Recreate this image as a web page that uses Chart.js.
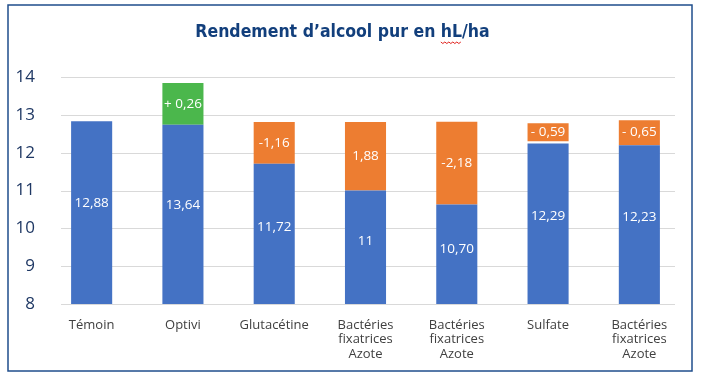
<!DOCTYPE html>
<html><head><meta charset="utf-8">
<script src="https://cdn.jsdelivr.net/npm/chart.js@4/dist/chart.umd.min.js"></script>
<style>html,body{margin:0;padding:0;background:#fff}#wrap{width:701px;height:377px}</style>
</head><body><div id="wrap"><canvas id="c" width="701" height="377"></canvas></div>
<script>
const categories = [["Témoin"],["Optivi"],["Glutacétine"],["Bactéries","fixatrices","Azote"],["Bactéries","fixatrices","Azote"],["Sulfate"],["Bactéries","fixatrices","Azote"]];
const baseValues = [12.83, 12.74, 11.71, 11.0, 10.63, 12.24, 12.2];
const baseLabels = ["12,88","13,64","11,72","11","10,70","12,29","12,23"];
const greenLow  = [null, 12.74, null, null, null, null, null];
const greenHigh = [null, 13.84, null, null, null, null, null];
const orangeLow  = [null, null, 11.71, 11.0, 10.63, 12.30, 12.2];
const orangeHigh = [null, null, 12.81, 12.81, 12.82, 12.78, 12.86];
const topLabels = ["", "+ 0,26", "-1,16", "1,88", "-2,18", "- 0,59", "- 0,65"];
const yTicks = [8, 9, 10, 11, 12, 13, 14];
const titleText = 'Rendement d\u2019alcool pur en hL/ha';
const titleFont = { family: '"DejaVu Sans Condensed"', size: 17.5, weight: 'bold' };

const range = (lo, hi) => lo.map((v, i) => v === null ? null : [v, hi[i]]);

const frame = {
  id: 'frame',
  beforeDraw(chart) {
    const c = chart.ctx;
    c.save();
    c.fillStyle = '#fff';
    c.fillRect(0, 0, chart.width, chart.height);
    c.strokeStyle = '#1F4E8C';
    c.lineWidth = 1.5;
    c.strokeRect(8, 5, 684, 366);
    c.restore();
  },
  beforeDatasetsDraw(chart) {
    const c = chart.ctx, y = chart.scales.y, a = chart.chartArea;
    c.save();
    c.strokeStyle = '#D9D9D9';
    c.lineWidth = 1;
    yTicks.forEach(t => {
      const py = Math.round(y.getPixelForValue(t)) + 0.5;
      c.beginPath(); c.moveTo(a.left + 15, py); c.lineTo(a.right - 10, py); c.stroke();
    });
    c.restore();
  },
  afterDatasetsDraw(chart) {
    const c = chart.ctx;
    c.save();
    c.fillStyle = '#fff';
    c.font = '13.5px "Open Sans"';
    c.textAlign = 'center';
    c.textBaseline = 'middle';
    const m0 = chart.getDatasetMeta(0);
    m0.data.forEach((el, i) => {
      const base = chart.chartArea.bottom;
      c.fillText(baseLabels[i], el.x, el.y + (base - el.y) * 0.45);
    });
    [1, 2].forEach(di => {
      chart.getDatasetMeta(di).data.forEach((el, i) => {
        const raw = chart.data.datasets[di].data[i];
        if (raw === null || !topLabels[i]) return;
        c.fillText(topLabels[i], el.x, (el.y + el.base) / 2);
      });
    });
    c.restore();
  },
  afterDraw(chart) {
    // spell-check style wavy underline under "hL", as in the reference
    const tb = chart.titleBlock;
    if (!tb) return;
    const c = chart.ctx;
    c.save();
    c.font = 'bold ' + titleFont.size + 'px ' + titleFont.family;
    const full = c.measureText(titleText).width;
    const idx = titleText.indexOf('hL');
    const x0 = (chart.chartArea.left + chart.chartArea.right) / 2 - full / 2 + c.measureText(titleText.slice(0, idx)).width;
    const w = c.measureText('hL').width;
    const cx = (tb.left + tb.right) / 2;
    const startX = cx - full / 2 + c.measureText(titleText.slice(0, idx)).width;
    const yb = tb.top + tb.options.padding.top + titleFont.size * 1.2 - 1;
    c.strokeStyle = '#E0201B';
    c.lineWidth = 1;
    c.beginPath();
    for (let x = 0, k = 0; x <= w; x += 2, k++) {
      const yy = yb + (k % 2 ? 1.5 : 0);
      if (x === 0) c.moveTo(startX + x, yy); else c.lineTo(startX + x, yy);
    }
    c.stroke();
    c.restore();
  }
};

new Chart(document.getElementById('c'), {
  type: 'bar',
  data: {
    labels: categories,
    datasets: [
      { data: baseValues, backgroundColor: '#4472C4', borderWidth: 0 },
      { data: range(greenLow, greenHigh), backgroundColor: '#4BB74C', borderWidth: 0 },
      { data: range(orangeLow, orangeHigh), backgroundColor: '#ED7D31', borderWidth: 0 }
    ]
  },
  options: {
    responsive: false,
    animation: false,
    events: [],
    devicePixelRatio: 1,
    layout: { padding: { left: 0, right: 16, top: 0, bottom: 2 } },
    datasets: { bar: { categoryPercentage: 1, barPercentage: 0.45, grouped: false } },
    plugins: {
      legend: { display: false },
      tooltip: { enabled: false },
      title: {
        display: true,
        text: titleText,
        color: '#123F7C',
        font: titleFont,
        padding: { top: 22, bottom: 34 }
      }
    },
    scales: {
      x: {
        grid: { display: false, drawTicks: false },
        border: { display: false },
        ticks: { color: '#404040', font: { family: '"Open Sans"', size: 13, lineHeight: 1.1 }, padding: 14, maxRotation: 0, autoSkip: false }
      },
      y: {
        min: 8, max: 14,
        afterFit(s) { s.width = 46; },
        afterBuildTicks(s) { s.ticks = yTicks.map(v => ({ value: v })); },
        grid: { display: false, drawTicks: false },
        border: { display: false },
        ticks: { color: '#1F3864', font: { family: '"Open Sans"', size: 17 }, padding: 11 }
      }
    }
  },
  plugins: [frame]
});
</script>
</body></html>
